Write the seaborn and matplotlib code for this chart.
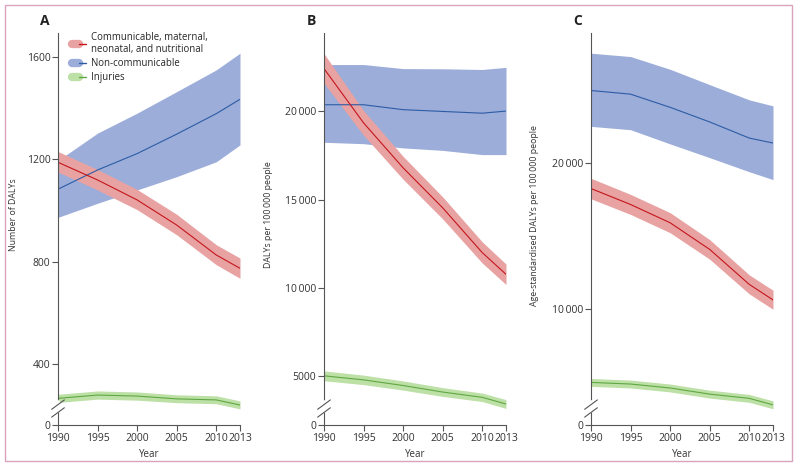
import matplotlib
matplotlib.use("Agg")
import matplotlib.pyplot as plt
import seaborn as sns
from matplotlib.lines import Line2D
from matplotlib.legend_handler import HandlerTuple
from matplotlib.patches import Rectangle

years = [1990, 1995, 2000, 2005, 2010, 2013]

# A: number of DALYs (millions)
a_comm = [1188, 1119, 1041, 943, 826, 774]
a_comm_lo = [1150, 1080, 1003, 905, 788, 735]
a_comm_hi = [1230, 1160, 1082, 985, 866, 814]
a_non = [1083, 1158, 1222, 1298, 1378, 1434]
a_non_lo = [973, 1028, 1080, 1132, 1190, 1256]
a_non_hi = [1195, 1302, 1380, 1464, 1549, 1614]
a_inj = [266, 279, 275, 264, 260, 240]
a_inj_lo = [250, 263, 259, 249, 245, 225]
a_inj_hi = [282, 295, 291, 280, 276, 256]

# B: DALYs per 100 000 people
b_comm = [22430, 19350, 16800, 14530, 11990, 10760]
b_comm_lo = [21600, 18650, 16150, 13900, 11400, 10180]
b_comm_hi = [23280, 20050, 17450, 15150, 12600, 11340]
b_non = [20380, 20380, 20100, 20000, 19900, 20020]
b_non_lo = [18250, 18170, 17930, 17790, 17550, 17550]
b_non_hi = [22660, 22660, 22430, 22420, 22380, 22500]
b_inj = [5000, 4770, 4450, 4080, 3780, 3400]
b_inj_lo = [4720, 4500, 4190, 3830, 3540, 3150]
b_inj_hi = [5280, 5040, 4710, 4330, 4020, 3650]

# C: age-standardised DALYs per 100 000 people
c_comm = [18250, 17160, 15910, 14090, 11700, 10640]
c_comm_lo = [17550, 16480, 15230, 13420, 11050, 10000]
c_comm_hi = [18950, 17850, 16600, 14760, 12350, 11300]
c_non = [24950, 24700, 23800, 22800, 21700, 21360]
c_non_lo = [22500, 22270, 21300, 20360, 19400, 18860]
c_non_hi = [27500, 27270, 26400, 25350, 24310, 23900]
c_inj = [5000, 4890, 4620, 4200, 3910, 3470]
c_inj_lo = [4730, 4620, 4350, 3930, 3640, 3200]
c_inj_hi = [5270, 5160, 4890, 4470, 4180, 3740]

groups = ["Communicable, maternal,\nneonatal, and nutritional", "Non-communicable", "Injuries"]
line_col = {"comm": "#c4161c", "non": "#2d5ca6", "inj": "#5fa843"}
fill_col = {"comm": "#e8a2a2", "non": "#9badd8", "inj": "#bde0a6"}

sns.set_style("ticks")
plt.rcParams["font.family"] = ["Open Sans", "DejaVu Sans"]
plt.rcParams["font.size"] = 7.5

fig = plt.figure(figsize=(8, 4.67), dpi=100)

panels = [
    dict(letter="A", left=58, ylab="Number of DALYs", labx=-0.22, ylim=(162, 1693),
         ticks=[162, 400, 800, 1200, 1600], labels=["0", "400", "800", "1200", "1600"],
         data={"non": (a_non, a_non_lo, a_non_hi), "comm": (a_comm, a_comm_lo, a_comm_hi),
               "inj": (a_inj, a_inj_lo, a_inj_hi)}),
    dict(letter="B", left=324, ylab="DALYs per 100\u2009000 people", labx=-0.28, ylim=(2210, 24450),
         ticks=[2210, 5000, 10000, 15000, 20000],
         labels=["0", "5000", "10\u2009000", "15\u2009000", "20\u2009000"],
         data={"non": (b_non, b_non_lo, b_non_hi), "comm": (b_comm, b_comm_lo, b_comm_hi),
               "inj": (b_inj, b_inj_lo, b_inj_hi)}),
    dict(letter="C", left=591, ylab="Age-standardised DALYs per 100\u2009000 people", labx=-0.286,
         ylim=(2090, 28880), ticks=[2090, 10000, 20000], labels=["0", "10\u2009000", "20\u2009000"],
         data={"non": (c_non, c_non_lo, c_non_hi), "comm": (c_comm, c_comm_lo, c_comm_hi),
               "inj": (c_inj, c_inj_lo, c_inj_hi)}),
]

W, H = 800, 467
for p in panels:
    ax = fig.add_axes([p["left"] / W, 1 - 425 / H, 182 / W, 392 / H])
    for key in ["non", "comm", "inj"]:
        mid, lo, hi = p["data"][key]
        ax.fill_between(years, lo, hi, color=fill_col[key], lw=0)
        sns.lineplot(x=years, y=mid, ax=ax, color=line_col[key], lw=0.8)
    ax.set_xlim(1990, 2013)
    ax.set_ylim(*p["ylim"])
    ax.set_xticks(years)
    ax.set_xticklabels([str(y) for y in years])
    ax.set_yticks(p["ticks"])
    ax.set_yticklabels(p["labels"])
    ax.set_xlabel("Year", fontsize=7, labelpad=4)
    ax.set_ylabel(p["ylab"], fontsize=6.3)
    ax.yaxis.set_label_coords(p["labx"], (425 - 215) / 392)
    sns.despine(ax=ax)
    for s in ["left", "bottom"]:
        ax.spines[s].set_color("#555555")
        ax.spines[s].set_linewidth(0.8)
    ax.tick_params(length=4, width=0.8, color="#555555", labelcolor="#333333", pad=1.5)
    ax.xaxis.label.set_color("#333333")
    ax.yaxis.label.set_color("#333333")
    # axis break marks
    ax.plot([-0.002, -0.002], [0.035, 0.06], transform=ax.transAxes, color="white",
            lw=2, clip_on=False, zorder=5)
    for y0 in [0.032, 0.052]:
        ax.plot([-0.035, 0.035], [y0 - 0.012, y0 + 0.012], transform=ax.transAxes,
                color="#555555", lw=0.8, clip_on=False, zorder=6)
    fig.text((p["left"] - 13) / W, 1 - 21 / H, p["letter"], fontsize=10, fontweight="bold",
             ha="center", va="center", color="#222222")
    if p["letter"] == "A":
        handles = [(Line2D([], [], color=fill_col[k], lw=6, solid_capstyle="round"),
                    Line2D([], [], color=line_col[k], lw=1)) for k in ["comm", "non", "inj"]]
        ax.legend(handles, groups, handler_map={tuple: HandlerTuple(ndivide=None, pad=0)},
                  loc="upper left", bbox_to_anchor=(0.03, 1.025), frameon=False,
                  handlelength=1.4, handletextpad=0.55, labelspacing=0.3, fontsize=6.9)

fig.patches.append(Rectangle((5 / W, 1 - 461 / H), 787 / W, 456 / H, transform=fig.transFigure,
                             fill=False, ec="#d9a3bd", lw=1))

fig.savefig("out.png", dpi=100)
